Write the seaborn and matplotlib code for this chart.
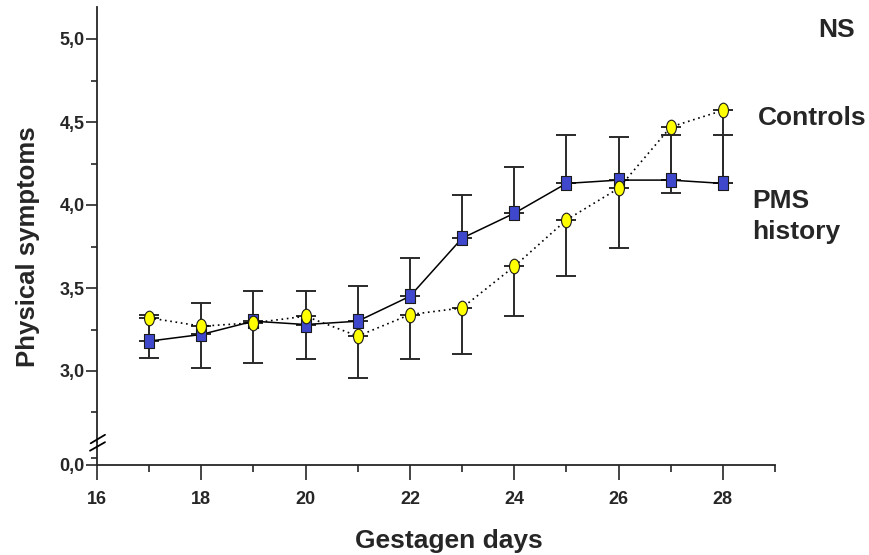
import matplotlib
matplotlib.use("Agg")
import matplotlib.pyplot as plt
from matplotlib.path import Path
from matplotlib.lines import Line2D
from matplotlib.ticker import MultipleLocator, FuncFormatter
import numpy as np
import pandas as pd
import seaborn as sns

# ---- data ----
days = [17, 18, 19, 20, 21, 22, 23, 24, 25, 26, 27, 28]
pms = [3.18, 3.22, 3.30, 3.28, 3.30, 3.45, 3.80, 3.95, 4.13, 4.15, 4.15, 4.13]
pms_upper = [3.34, 3.41, 3.48, 3.48, 3.51, 3.68, 4.06, 4.23, 4.42, 4.41, 4.42, 4.42]
controls = [3.32, 3.27, 3.29, 3.33, 3.21, 3.34, 3.38, 3.63, 3.91, 4.10, 4.47, 4.57]
controls_lower = [3.08, 3.02, 3.05, 3.07, 2.96, 3.07, 3.10, 3.33, 3.57, 3.74, 4.07, 4.13]
x_major = [16, 18, 20, 22, 24, 26, 28]
y_major = [3.0, 3.5, 4.0, 4.5, 5.0]

sns.set_style("ticks")
plt.rcParams['font.family'] = ['Liberation Sans', 'DejaVu Sans']
plt.rcParams['font.weight'] = 'bold'

df = pd.DataFrame({"day": days, "pms": pms, "controls": controls})

W, H = 870, 555
fig = plt.figure(figsize=(W / 100, H / 100), dpi=100)

x_left, x_right = 97, 775
y_top, y_break, y_zero = 7, 442, 465
ax = fig.add_axes([x_left / W, 1 - y_break / H, (x_right - x_left) / W, (y_break - y_top) / H])
axb = fig.add_axes([x_left / W, 1 - y_zero / H, (x_right - x_left) / W, (y_zero - y_break) / H], sharex=ax)

# custom marker shapes
ell = Path.unit_circle().transformed(matplotlib.transforms.Affine2D().scale(0.68, 1.0))
rect = Path([(-0.35, -0.5), (0.35, -0.5), (0.35, 0.5), (-0.35, 0.5), (-0.35, -0.5)],
            [Path.MOVETO, Path.LINETO, Path.LINETO, Path.LINETO, Path.CLOSEPOLY])

err_col = "#2a2a2a"
pms_a = np.array(pms); pu = np.array(pms_upper) - pms_a
con_a = np.array(controls); cl = con_a - np.array(controls_lower)
ax.errorbar(days, pms, yerr=[np.zeros_like(pu), pu], fmt="none", ecolor=err_col,
            elinewidth=1.4, capsize=7, capthick=1.4, zorder=2)
ax.errorbar(days, controls, yerr=[cl, np.zeros_like(cl)], fmt="none", ecolor=err_col,
            elinewidth=1.4, capsize=7, capthick=1.4, zorder=2)

sns.lineplot(data=df, x="day", y="pms", ax=ax, color="black", linewidth=1.1,
             marker=rect, markersize=10, markerfacecolor="#3f48cc",
             markeredgecolor="#1a1a1a", markeredgewidth=0.8, zorder=3)
sns.lineplot(data=df, x="day", y="controls", ax=ax, color="black", linewidth=1.2,
             linestyle=(0, (1, 2.2)), marker=ell, markersize=10.5,
             markerfacecolor="#ffff00", markeredgecolor="#1a1a1a", markeredgewidth=0.8, zorder=4)

ylo = 3 - (y_break - 371) / 166.0
yhi = 3 + (371 - y_top) / 166.0
ax.set_ylim(ylo, yhi)
ax.set_xlim(16, 29)
axb.set_ylim(0, 0.8)

fmt = FuncFormatter(lambda v, p: f"{v:.1f}".replace(".", ","))
ax.set_yticks(y_major)
ax.yaxis.set_major_formatter(fmt)
ax.yaxis.set_minor_locator(MultipleLocator(0.25))
axb.set_yticks([0.0])
axb.yaxis.set_major_formatter(fmt)
axb.set_yticks([0.25], minor=True)
axb.set_xticks(x_major)
axb.xaxis.set_minor_locator(MultipleLocator(1))

for a in (ax, axb):
    a.spines['top'].set_visible(False)
    a.spines['right'].set_visible(False)
    a.spines['left'].set_linewidth(1.3)
    a.spines['bottom'].set_linewidth(1.3)
    a.set_facecolor("none")
    a.set_xlabel("")
    a.set_ylabel("")
    a.tick_params(axis='y', which='major', length=8, width=1.2, pad=1, labelsize=13)
    a.tick_params(axis='y', which='minor', length=4, width=1.2)
    a.tick_params(axis='x', which='major', length=11, width=1.2, pad=8, labelsize=13)
    a.tick_params(axis='x', which='minor', length=5, width=1.2)
ax.spines['bottom'].set_visible(False)
ax.tick_params(axis='x', which='both', bottom=False, labelbottom=False)
for lbl in ax.get_yticklabels() + axb.get_yticklabels() + axb.get_xticklabels():
    lbl.set_fontweight('bold')

# break marks
for (x0, y0, x1, y1) in [(90.7, 443.3, 105, 434.8), (90, 450.7, 105, 442.2)]:
    fig.add_artist(Line2D([x0 / W, x1 / W], [1 - y0 / H, 1 - y1 / H], color="black", lw=1.3))

fig.text(28 / W, 1 - 247 / H, "Physical symptoms", rotation=90, ha="center", va="center",
         fontsize=18.5, fontweight="bold")
fig.text(449 / W, 1 - 541 / H, "Gestagen days", ha="center", va="center",
         fontsize=19, fontweight="bold")
fig.text(818 / W, 1 - 30 / H, "NS", ha="left", va="center", fontsize=19, fontweight="bold")
fig.text(758 / W, 1 - 118 / H, "Controls", ha="left", va="center", fontsize=19, fontweight="bold")
fig.text(752 / W, 1 - 201 / H, "PMS", ha="left", va="center", fontsize=19, fontweight="bold")
fig.text(752 / W, 1 - 232 / H, "history", ha="left", va="center", fontsize=19, fontweight="bold")

fig.savefig("out.png", dpi=100)
